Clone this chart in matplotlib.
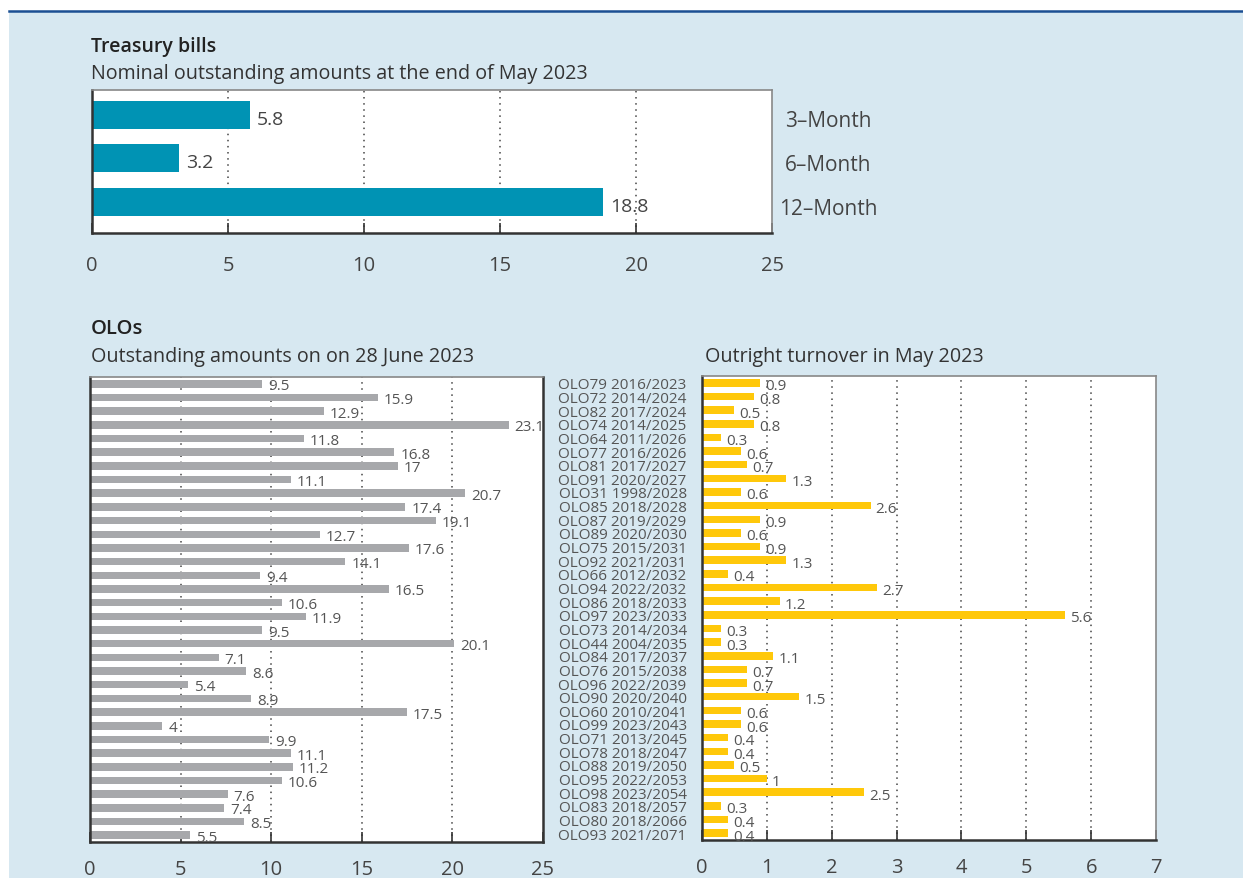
import matplotlib
matplotlib.use("Agg")
import matplotlib.pyplot as plt
from matplotlib.patches import Rectangle
from matplotlib.transforms import offset_copy

plt.rcParams['font.family'] = ['Open Sans', 'DejaVu Sans']

# ---------------- data ----------------
tbill_labels = ["3\u2013Month", "6\u2013Month", "12\u2013Month"]
tbill_values = [5.8, 3.2, 18.8]

olo_labels = [
    "OLO79 2016/2023", "OLO72 2014/2024", "OLO82 2017/2024", "OLO74 2014/2025",
    "OLO64 2011/2026", "OLO77 2016/2026", "OLO81 2017/2027", "OLO91 2020/2027",
    "OLO31 1998/2028", "OLO85 2018/2028", "OLO87 2019/2029", "OLO89 2020/2030",
    "OLO75 2015/2031", "OLO92 2021/2031", "OLO66 2012/2032", "OLO94 2022/2032",
    "OLO86 2018/2033", "OLO97 2023/2033", "OLO73 2014/2034", "OLO44 2004/2035",
    "OLO84 2017/2037", "OLO76 2015/2038", "OLO96 2022/2039", "OLO90 2020/2040",
    "OLO60 2010/2041", "OLO99 2023/2043", "OLO71 2013/2045", "OLO78 2018/2047",
    "OLO88 2019/2050", "OLO95 2022/2053", "OLO98 2023/2054", "OLO83 2018/2057",
    "OLO80 2018/2066", "OLO93 2021/2071",
]
olo_outstanding = [9.5, 15.9, 12.9, 23.1, 11.8, 16.8, 17, 11.1, 20.7, 17.4, 19.1,
                   12.7, 17.6, 14.1, 9.4, 16.5, 10.6, 11.9, 9.5, 20.1, 7.1, 8.6,
                   5.4, 8.9, 17.5, 4, 9.9, 11.1, 11.2, 10.6, 7.6, 7.4, 8.5, 5.5]
olo_turnover = [0.9, 0.8, 0.5, 0.8, 0.3, 0.6, 0.7, 1.3, 0.6, 2.6, 0.9, 0.6, 0.9,
                1.3, 0.4, 2.7, 1.2, 5.6, 0.3, 0.3, 1.1, 0.7, 0.7, 1.5, 0.6, 0.6,
                0.4, 0.4, 0.5, 1, 2.5, 0.3, 0.4, 0.4]

tbill_ticks = [0, 5, 10, 15, 20, 25]
olo_ticks = [0, 5, 10, 15, 20, 25]
turn_ticks = [0, 1, 2, 3, 4, 5, 6, 7]

# ---------------- style ----------------
W, H = 1243, 879
BG = "#d7e8f1"
TEAL = "#0093b4"
GREY = "#a7a8ab"
YELLOW = "#ffc80a"
DARK = "#333333"
TXT = "#444444"
LTXT = "#555555"

fig = plt.figure(figsize=(W / 100, H / 100), dpi=100)
fig.patch.set_facecolor("white")
fig.patches.append(Rectangle((9 / W, 0), 1 - 9 / W, (H - 12) / H,
                             transform=fig.transFigure, facecolor=BG,
                             edgecolor="none", zorder=-10))
fig.add_artist(plt.Line2D([9 / W, 1], [(H - 12) / H, (H - 12) / H],
                          transform=fig.transFigure, color="#1b4f93", lw=1.8))


def px_axes(left, top, right, bottom):
    return fig.add_axes([left / W, (H - bottom) / H, (right - left) / W, (bottom - top) / H])


def style_axes(ax, xticks, pad, lw_right_dark=False):
    ax.set_facecolor("white")
    ax.set_xticks(xticks)
    ax.set_xlim(xticks[0], xticks[-1])
    for x in xticks[1:-1]:
        ax.axvline(x, color="#444444", lw=1.1, ls=(0, (1, 3)), zorder=0)
    ax.spines["left"].set_color(DARK)
    ax.spines["left"].set_linewidth(1.8)
    ax.spines["bottom"].set_color(DARK)
    ax.spines["bottom"].set_linewidth(1.8)
    ax.spines["top"].set_color("#888888")
    ax.spines["top"].set_linewidth(1.2)
    ax.spines["right"].set_color(DARK if lw_right_dark else "#888888")
    ax.spines["right"].set_linewidth(1.8 if lw_right_dark else 1.2)
    ax.tick_params(axis="x", direction="in", length=7, width=1.2, color=DARK,
                   pad=pad, labelsize=14.5, labelcolor=TXT)


# ---------------- Treasury bills ----------------
fig.text(91 / W, 1 - 47 / H, "Treasury bills", fontsize=14, fontweight="semibold",
         color="#222222", va="center", ha="left")
fig.text(91 / W, 1 - 74 / H, "Nominal outstanding amounts at the end of May 2023",
         fontsize=14.2, color="#333333", va="center", ha="left")

ax1 = px_axes(92, 91, 772, 234)
ypos = list(range(len(tbill_values)))
ax1.barh(ypos, tbill_values, height=0.64, color=TEAL, zorder=2)
ax1.set_ylim(2.71, -0.57)
style_axes(ax1, tbill_ticks, pad=15.5)
ax1.set_yticks([])
for y, v, lab in zip(ypos, tbill_values, tbill_labels):
    ax1.text(v, y, f"{v:g}", transform=offset_copy(ax1.transData, fig, x=7, y=-4, units="dots"),
             fontsize=14, color=TXT, va="center", ha="left")
    ax1.text(1.0, y, lab, transform=offset_copy(ax1.get_yaxis_transform(), fig, x=56, y=-6, units="dots"),
             fontsize=15, color=TXT, va="center", ha="center", clip_on=False)

# ---------------- OLOs ----------------
fig.text(91 / W, 1 - 329 / H, "OLOs", fontsize=14.5, fontweight="semibold",
         color="#222222", va="center", ha="left")
fig.text(91 / W, 1 - 357 / H, "Outstanding amounts on on 28 June 2023",
         fontsize=14.2, color="#333333", va="center", ha="left")
fig.text(705 / W, 1 - 357 / H, "Outright turnover in May 2023",
         fontsize=14.2, color="#333333", va="center", ha="left")

n = len(olo_labels)
ypos2 = list(range(n))

ax2 = px_axes(90, 378, 543, 843)
ax2.barh(ypos2, olo_outstanding, height=0.55, color=GREY, zorder=2)
ax2.set_ylim(n - 0.5, -0.5)
style_axes(ax2, olo_ticks, pad=12.5, lw_right_dark=True)
ax2.set_yticks([])
for y, v in zip(ypos2, olo_outstanding):
    ax2.text(v, y, f"{v:g}", transform=offset_copy(ax2.transData, fig, x=6, y=-2, units="dots"),
             fontsize=11, color=LTXT, va="center", ha="left", clip_on=False)

ax3 = px_axes(702, 377, 1156, 841)
ax3.barh(ypos2, olo_turnover, height=0.55, color=YELLOW, zorder=2)
ax3.set_ylim(n - 0.5, -0.5)
style_axes(ax3, turn_ticks, pad=12.5)
ax3.set_yticks(ypos2)
ax3.set_yticklabels(olo_labels)
ax3.tick_params(axis="y", length=0, pad=11, labelsize=11, labelcolor=LTXT)
for y, v in zip(ypos2, olo_turnover):
    ax3.text(v, y, f"{v:g}", transform=offset_copy(ax3.transData, fig, x=5, y=-3, units="dots"),
             fontsize=11, color=LTXT, va="center", ha="left", clip_on=False)

fig.savefig("out.png", dpi=100, facecolor=fig.get_facecolor())
